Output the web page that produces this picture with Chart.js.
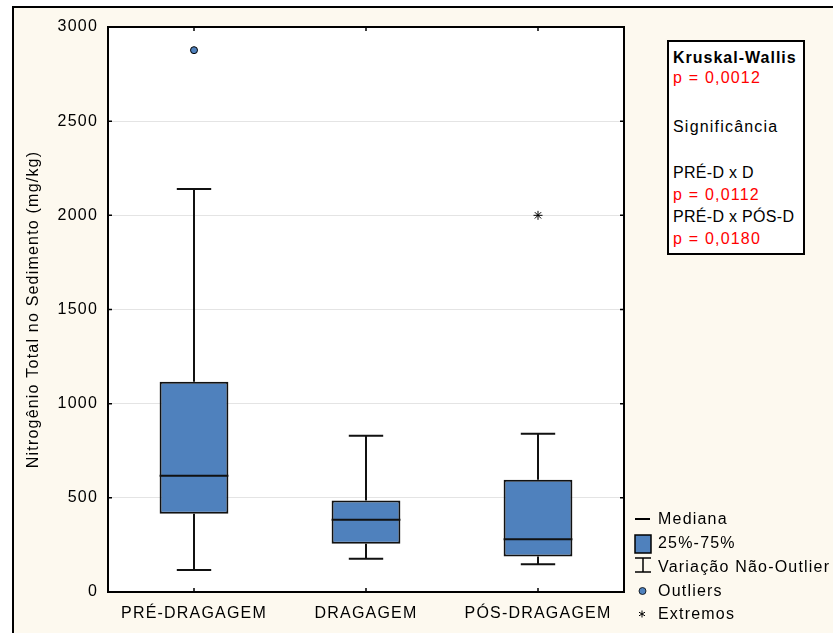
<!DOCTYPE html>
<html>
<head>
<meta charset="utf-8">
<script src="https://cdn.jsdelivr.net/npm/chart.js@4"></script>
<style>
  body { margin: 0; background: #fff; overflow: hidden; }
  #page { position: relative; width: 833px; height: 633px; overflow: hidden; }
  #frame { position: absolute; left: 12px; top: 6px; width: 900px; height: 700px;
           border-left: 2px solid #000; border-top: 2px solid #000; background: #fdf9ef; }
  #chart { position: absolute; left: 0; top: 0; z-index: 1; }
  .txt { position: absolute; z-index: 2; font: 16px "Liberation Sans", Arial, sans-serif;
         line-height: 20px; letter-spacing: 1.2px; color: #000; white-space: nowrap; }
  .red { color: #ff0000; }
  .bold { font-weight: bold; letter-spacing: 1px; }
  .tight { letter-spacing: 0.3px; }
  #stats { position: absolute; z-index: 2; left: 667px; top: 40px; width: 138px; height: 215px;
           box-sizing: border-box; border: 2px solid #000; background: #fff; }
  #icons { position: absolute; z-index: 2; left: 625px; top: 505px; }
</style>
</head>
<body>
<div id="page">
  <div id="frame"></div>
  <canvas id="chart" width="833" height="633"></canvas>

  <div id="stats"></div>
  <div class="txt bold" style="left:673px; top:48px">Kruskal-Wallis</div>
  <div class="txt red" style="left:673px; top:68px">p = 0,0012</div>
  <div class="txt" style="left:673px; top:117px">Significância</div>
  <div class="txt tight" style="left:673px; top:163px">PRÉ-D x D</div>
  <div class="txt red" style="left:673px; top:185px">p = 0,0112</div>
  <div class="txt tight" style="left:673px; top:207px">PRÉ-D x PÓS-D</div>
  <div class="txt red" style="left:673px; top:229px">p = 0,0180</div>

  <svg id="icons" width="40" height="125">
    <line x1="10" y1="14" x2="25" y2="14" stroke="#000" stroke-width="2"/>
    <rect x="10" y="30" width="16" height="18" fill="#4f81bd" stroke="#000" stroke-width="1.5"/>
    <line x1="10" y1="53" x2="26" y2="53" stroke="#000" stroke-width="1.5"/>
    <line x1="18" y1="53" x2="18" y2="67" stroke="#000" stroke-width="1.5"/>
    <line x1="10" y1="67" x2="26" y2="67" stroke="#000" stroke-width="1.5"/>
    <circle cx="17.5" cy="86" r="3.5" fill="#4f81bd" stroke="#000" stroke-width="0.8"/>
    <g stroke="#000" stroke-width="1">
      <line x1="17" y1="105.5" x2="17" y2="112.5"/>
      <line x1="14" y1="107.2" x2="20" y2="110.8"/>
      <line x1="14" y1="110.8" x2="20" y2="107.2"/>
    </g>
  </svg>
  <div class="txt" style="left:658px; top:509px">Mediana</div>
  <div class="txt" style="left:658px; top:533px">25%-75%</div>
  <div class="txt" style="left:658px; top:557px">Variação Não-Outlier</div>
  <div class="txt" style="left:658px; top:581px">Outliers</div>
  <div class="txt" style="left:658px; top:604px">Extremos</div>
</div>

<script>
const categories = ['PRÉ-DRAGAGEM', 'DRAGAGEM', 'PÓS-DRAGAGEM'];
const whiskerLow = [117, 177, 147];
const q1 = [416, 256, 189];
const median = [617, 384, 280];
const q3 = [1117, 486, 596];
const whiskerHigh = [2140, 830, 840];
const outliers = [2877, null, null];
const extremes = [null, null, 2000];
const yMin = 0;
const yMax = 3000;
const yStep = 500;

const fontFamily = '"Liberation Sans", Arial, sans-serif';

// whiskers, medians, plot frame and inward tick marks
const boxPlot = {
  id: 'boxPlot',
  beforeDraw(chart) {
    const { ctx, chartArea: a } = chart;
    ctx.letterSpacing = '1.2px';
    ctx.save();
    ctx.fillStyle = '#fff';
    ctx.fillRect(a.left, a.top, a.width, a.height);
    ctx.restore();
  },
  afterDatasetsDraw(chart) {
    const { ctx } = chart;
    const y = chart.scales.y;
    const bars = chart.getDatasetMeta(0).data;
    ctx.save();
    ctx.strokeStyle = '#111';
    ctx.lineWidth = 2;
    bars.forEach((bar, i) => {
      const half = bar.width / 2;
      const cap = bar.width / 4;
      const top = y.getPixelForValue(whiskerHigh[i]);
      const bottom = y.getPixelForValue(whiskerLow[i]);
      const boxTop = y.getPixelForValue(q3[i]);
      const boxBottom = y.getPixelForValue(q1[i]);
      const med = y.getPixelForValue(median[i]);
      ctx.beginPath();
      ctx.moveTo(bar.x, boxTop); ctx.lineTo(bar.x, top);
      ctx.moveTo(bar.x - cap, top); ctx.lineTo(bar.x + cap, top);
      ctx.moveTo(bar.x, boxBottom); ctx.lineTo(bar.x, bottom);
      ctx.moveTo(bar.x - cap, bottom); ctx.lineTo(bar.x + cap, bottom);
      ctx.moveTo(bar.x - half, med); ctx.lineTo(bar.x + half, med);
      ctx.stroke();
    });
    ctx.restore();
  },
  afterDraw(chart) {
    const { ctx, chartArea: a } = chart;
    const x = chart.scales.x;
    const y = chart.scales.y;
    ctx.save();
    ctx.strokeStyle = '#000';
    ctx.lineWidth = 1.5;
    ctx.beginPath();
    y.ticks.forEach(t => {
      const py = y.getPixelForValue(t.value);
      ctx.moveTo(a.left, py); ctx.lineTo(a.left + 4, py);
      ctx.moveTo(a.right, py); ctx.lineTo(a.right - 4, py);
    });
    categories.forEach((_, i) => {
      const px = x.getPixelForValue(i);
      ctx.moveTo(px, a.bottom); ctx.lineTo(px, a.bottom - 4);
      ctx.moveTo(px, a.top); ctx.lineTo(px, a.top + 4);
    });
    ctx.stroke();
    ctx.lineWidth = 2;
    ctx.strokeRect(a.left, a.top, a.width, a.height);
    ctx.restore();
  }
};

new Chart(document.getElementById('chart'), {
  data: {
    labels: categories,
    datasets: [
      {
        type: 'bar',
        data: categories.map((_, i) => [q1[i], q3[i]]),
        backgroundColor: '#4f81bd',
        borderColor: '#111',
        borderWidth: 2,
        borderSkipped: false,
        categoryPercentage: 1,
        barPercentage: 0.4
      },
      {
        type: 'line',
        data: outliers,
        showLine: false,
        pointRadius: 3.5,
        pointBackgroundColor: '#4f81bd',
        pointBorderColor: '#000',
        pointBorderWidth: 1
      },
      {
        type: 'line',
        data: extremes,
        showLine: false,
        pointStyle: 'star',
        pointRadius: 4.5,
        pointBorderColor: '#000',
        pointBorderWidth: 1
      }
    ]
  },
  options: {
    responsive: false,
    animation: false,
    layout: { padding: { top: 27, right: 209, left: 0, bottom: 0 } },
    plugins: { legend: { display: false }, tooltip: { enabled: false } },
    scales: {
      x: {
        grid: { display: false },
        border: { display: false },
        ticks: { color: '#000', padding: 4, maxRotation: 0, autoSkip: false,
                 font: { family: fontFamily, size: 16 } },
        afterFit(scale) { scale.height = 41; }
      },
      y: {
        min: yMin,
        max: yMax,
        grid: { color: '#e4e4e4', lineWidth: 1, drawTicks: false },
        border: { display: false },
        ticks: { stepSize: yStep, color: '#000', padding: 10,
                 font: { family: fontFamily, size: 16 },
                 callback: v => String(v) },
        title: {
          display: true,
          text: 'Nitrogênio Total no Sedimento (mg/kg)',
          color: '#000',
          padding: { top: 24, bottom: 0 },
          font: { family: fontFamily, size: 16 }
        },
        afterFit(scale) { scale.width = 108; }
      }
    }
  },
  plugins: [boxPlot]
});
</script>
</body>
</html>
